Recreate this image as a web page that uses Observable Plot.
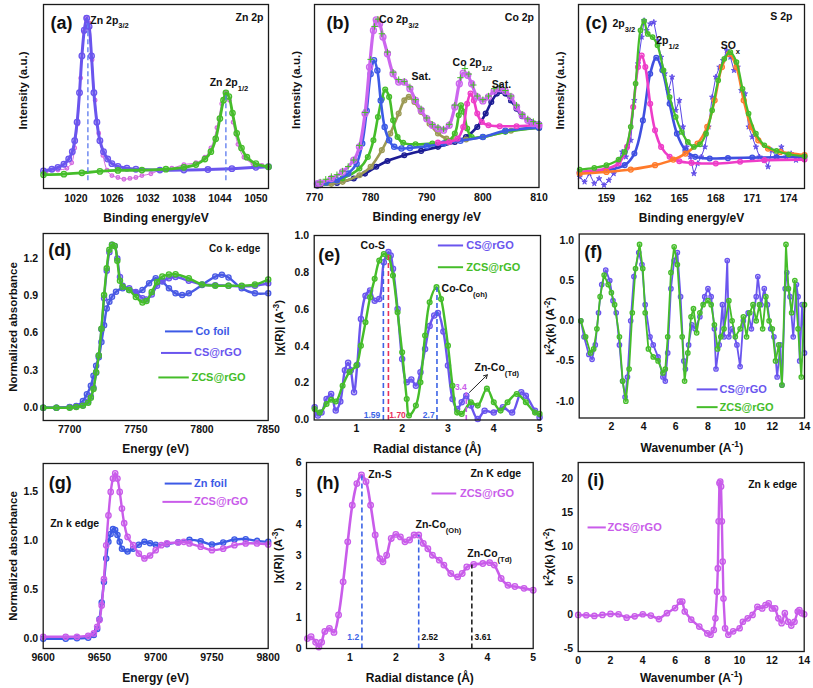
<!DOCTYPE html>
<html><head><meta charset="utf-8">
<script src="https://cdn.jsdelivr.net/npm/d3@7"></script>
<script src="https://cdn.jsdelivr.net/npm/@observablehq/plot@0.6"></script>
<style>
body{margin:0;background:#fff;}
#root{position:relative;width:813px;height:688px;overflow:hidden;background:#fff;}
.cell{position:absolute;}
</style></head>
<body><div id="root"></div>
<script>
// ---------- DATA ----------
// (a) Zn 2p
const aTicks = [1020, 1026, 1032, 1038, 1044, 1050];
const aRaw = [[1015,0.09],[1017,0.1],[1018.5,0.11],[1019.3,0.14],[1019.8,0.22],[1020.3,0.35],[1020.8,0.6],[1021.3,0.85],[1021.7,0.93],[1022.2,0.9],[1022.7,0.7],[1023.2,0.48],[1023.8,0.3],[1024.5,0.18],[1025.2,0.1],[1026,0.07],[1027,0.06],[1028,0.05],[1029,0.055],[1030,0.06],[1031,0.07],[1032.5,0.08],[1034,0.1],[1036,0.11],[1038,0.13],[1040,0.14],[1041.5,0.17],[1042.5,0.22],[1043.5,0.33],[1044.3,0.46],[1045,0.52],[1045.6,0.48],[1046.2,0.36],[1047,0.24],[1048,0.17],[1049.5,0.135],[1051,0.125],[1052,0.12]];
const aFit32 = [[1014.6,0.095],[1016,0.105],[1017,0.115],[1018,0.132],[1018.8,0.16],[1019.4,0.2],[1019.8,0.26],[1020.2,0.36],[1020.6,0.52],[1021,0.72],[1021.4,0.86],[1021.8,0.925],[1022.2,0.88],[1022.6,0.72],[1023,0.52],[1023.5,0.36],[1024,0.26],[1024.6,0.2],[1025.3,0.16],[1026,0.135],[1027,0.12],[1028.5,0.11],[1030,0.105],[1034,0.1],[1038,0.1],[1042,0.103],[1046,0.108],[1050,0.115],[1052.1,0.118]];
const aFit12 = [[1014.6,0.075],[1018,0.078],[1021,0.085],[1024,0.093],[1027,0.098],[1031,0.1],[1035,0.105],[1038,0.115],[1040,0.13],[1041.5,0.16],[1042.5,0.2],[1043.3,0.27],[1044,0.38],[1044.6,0.48],[1045,0.52],[1045.5,0.5],[1046.1,0.41],[1046.8,0.3],[1047.6,0.22],[1048.5,0.17],[1050,0.135],[1052.1,0.118]];
const aPeaks = [{x:1022, top:0.92}, {x:1045, top:0.52}];

// (b) Co 2p
const bTicks = [770, 780, 790, 800, 810];
const bEnv = [[770.5,0.02],[771,0.025],[773,0.049],[775,0.085],[777,0.149],[778,0.222],[779,0.404],[779.8,0.658],[780.5,0.858],[781,0.916],[781.6,0.895],[782.2,0.822],[783,0.731],[784,0.622],[785,0.576],[786,0.576],[787,0.54],[788,0.476],[789,0.422],[790,0.376],[791,0.34],[792,0.322],[793,0.313],[794,0.34],[795,0.44],[795.8,0.567],[796.5,0.625],[797.3,0.613],[798,0.567],[799,0.495],[800,0.473],[801,0.495],[802,0.527],[803,0.54],[804,0.527],[805,0.495],[806,0.44],[807,0.395],[808,0.367],[809,0.349],[810,0.34]];
const bRaw = [[771,0.03],[772,0.045],[773,0.06],[774,0.07],[775,0.09],[776,0.115],[777,0.15],[778,0.23],[779,0.41],[780,0.7],[780.7,0.88],[781.3,0.92],[782,0.84],[783,0.74],[784,0.63],[785,0.59],[786,0.58],[787,0.55],[788,0.48],[789,0.43],[790,0.38],[791,0.345],[792,0.33],[793,0.32],[794,0.345],[795,0.45],[796,0.6],[796.8,0.65],[797.5,0.62],[798.3,0.56],[799,0.5],[800,0.48],[801,0.5],[802,0.54],[803,0.55],[804,0.53],[805,0.5],[806,0.45],[807,0.4],[808,0.375],[809,0.36],[810,0.35]];
const bCo32 = [[770.5,0.02],[772,0.028],[774,0.04],[776,0.076],[777.5,0.13],[778.5,0.24],[779.3,0.42],[780,0.62],[780.6,0.695],[781.2,0.64],[781.8,0.476],[782.5,0.33],[783.3,0.258],[784.2,0.222],[785.5,0.213],[787,0.216],[790,0.225],[793,0.24],[796,0.255],[800,0.276],[804,0.31],[810,0.327]];
const bCo2 = [[770.5,0.015],[772,0.025],[775,0.05],[778,0.104],[779.5,0.167],[780.5,0.258],[781.3,0.385],[782,0.485],[782.6,0.535],[783.3,0.495],[784,0.367],[784.8,0.276],[785.8,0.244],[788,0.236],[791,0.24],[793.5,0.249],[795,0.295],[795.7,0.395],[796.1,0.449],[796.6,0.413],[797.2,0.322],[798,0.276],[800,0.276],[804,0.304],[810,0.327]];
const bSat1 = [[770.5,0.012],[773,0.02],[775,0.031],[778,0.067],[780,0.113],[782,0.204],[783.5,0.295],[785,0.404],[786,0.476],[786.8,0.495],[787.8,0.467],[789,0.413],[790.5,0.349],[792,0.295],[793.5,0.267],[795,0.258],[797,0.262],[800,0.276],[805,0.31],[810,0.327]];
const bCo12 = [[792,0.245],[794,0.249],[795.5,0.267],[796.5,0.331],[797.2,0.458],[797.8,0.513],[798.4,0.476],[799,0.404],[799.8,0.358],[801,0.34],[803,0.335],[806,0.335],[810,0.34]];
const bSat2 = [[770.5,0.01],[771,0.013],[774,0.025],[777,0.049],[779,0.076],[781,0.113],[783,0.145],[786,0.176],[789,0.2],[792,0.222],[795,0.249],[797,0.276],[799,0.331],[800.5,0.404],[801.5,0.467],[802.5,0.513],[803.2,0.527],[804,0.513],[805,0.476],[806,0.431],[807,0.389],[808.5,0.358],[810,0.345]];

// (c) S 2p
const cTicks = [159, 162, 165, 168, 171, 174];
const cRaw = [[156.8,0.063],[157.2,0.036],[157.6,0.081],[158,0.027],[158.4,0.054],[158.8,0.018],[159.2,0.045],[159.6,0.081],[160,0.154],[160.3,0.199],[160.6,0.172],[161,0.262],[161.3,0.479],[161.6,0.678],[161.9,0.823],[162.1,0.913],[162.3,0.859],[162.6,0.895],[162.9,0.904],[163.2,0.805],[163.5,0.714],[163.8,0.624],[164.1,0.533],[164.4,0.606],[164.7,0.425],[165,0.479],[165.3,0.335],[165.6,0.226],[165.9,0.172],[166.2,0.081],[166.5,0.136],[166.8,0.172],[167.1,0.226],[167.4,0.335],[167.7,0.497],[168,0.606],[168.3,0.66],[168.6,0.696],[168.9,0.75],[169.2,0.714],[169.5,0.642],[169.8,0.66],[170.1,0.533],[170.4,0.515],[170.7,0.335],[171,0.28],[171.3,0.226],[171.6,0.172],[172,0.154],[172.3,0.118],[172.6,0.208],[173,0.172],[173.4,0.226],[173.8,0.172],[174.2,0.19],[174.6,0.154],[175,0.172]];
const cEnv = [[156.8,0.103],[158,0.112],[159,0.127],[160,0.157],[160.5,0.199],[161,0.335],[161.4,0.57],[161.8,0.86],[162.1,0.91],[162.4,0.84],[162.8,0.823],[163.2,0.778],[163.7,0.642],[164.2,0.497],[164.7,0.389],[165.2,0.307],[165.7,0.253],[166.2,0.226],[166.7,0.24],[167.2,0.298],[167.7,0.425],[168.2,0.588],[168.7,0.705],[169.2,0.741],[169.7,0.687],[170.2,0.542],[170.7,0.407],[171.3,0.298],[172,0.235],[173,0.204],[174,0.186],[175.3,0.175]];
const cS32 = [[156.8,0.09],[159,0.108],[160,0.136],[160.7,0.226],[161.2,0.443],[161.6,0.66],[161.9,0.723],[162.2,0.66],[162.6,0.461],[163,0.316],[163.5,0.226],[164.2,0.172],[165,0.148],[166,0.139],[168,0.136],[170,0.145],[172,0.154],[175.3,0.157]];
const cS12 = [[156.8,0.085],[159,0.099],[160.5,0.127],[161.3,0.19],[162,0.37],[162.6,0.624],[163.1,0.711],[163.6,0.642],[164.2,0.461],[164.8,0.298],[165.5,0.208],[166.3,0.172],[167.5,0.163],[169,0.165],[171,0.168],[173,0.17],[175.3,0.172]];
const cSOx = [[156.8,0.081],[159,0.09],[161,0.103],[163,0.127],[164.5,0.157],[165.5,0.19],[166.5,0.244],[167.3,0.335],[167.9,0.479],[168.5,0.66],[169.1,0.732],[169.7,0.66],[170.3,0.479],[170.9,0.335],[171.5,0.262],[172.3,0.217],[173.3,0.199],[175.3,0.181]];

// (d) Co K-edge XANES
const dXTicks = [7700, 7750, 7800, 7850];
const dYTicks = [0.0, 0.3, 0.6, 0.9, 1.2];
const dCoFoil = [[7680,0],[7690,0],[7700,0.005],[7705,0.013],[7710,0.054],[7713,0.108],[7716,0.176],[7718,0.257],[7720,0.338],[7722,0.405],[7724,0.527],[7726,0.662],[7728,0.797],[7730,0.851],[7732,0.892],[7735,0.932],[7740,0.959],[7745,0.946],[7750,0.919],[7755,0.946],[7760,1.0],[7765,1.04],[7770,1.014],[7775,0.959],[7780,0.919],[7785,0.905],[7790,0.919],[7800,0.986],[7810,1.054],[7815,1.068],[7820,1.046],[7830,0.959],[7840,0.919],[7850,0.919]];
const dCS = [[7680,0],[7690,0],[7700,0.003],[7705,0.01],[7710,0.02],[7714,0.05],[7716,0.09],[7718,0.16],[7720,0.28],[7722,0.42],[7724,0.63],[7726,0.88],[7728,1.1],[7730,1.25],[7732,1.31],[7734,1.3],[7736,1.2],[7738,1.05],[7740,0.98],[7745,0.96],[7750,0.93],[7755,0.88],[7758,0.87],[7762,0.91],[7766,0.98],[7770,1.02],[7775,1.04],[7780,1.05],[7790,1.02],[7800,0.99],[7810,0.985],[7820,0.98],[7830,0.975],[7840,0.98],[7850,1.0]];
const dZCS = [[7680,0],[7690,0],[7700,0],[7705,0.005],[7710,0.015],[7714,0.04],[7716,0.08],[7718,0.15],[7720,0.285],[7722,0.42],[7724,0.635],[7726,0.905],[7728,1.12],[7730,1.27],[7732,1.31],[7734,1.3],[7736,1.18],[7738,1.02],[7740,0.973],[7745,0.946],[7750,0.89],[7755,0.846],[7758,0.857],[7762,0.93],[7766,1.01],[7770,1.054],[7775,1.07],[7780,1.073],[7790,1.04],[7800,0.99],[7810,0.98],[7820,0.98],[7830,0.98],[7840,0.99],[7850,1.03]];

// (e) Co FT-EXAFS
const eXTicks = [1, 2, 3, 4, 5];
const eYTicks = [0.0, 0.2, 0.4, 0.6, 0.8, 1.0];
const eCS = [[0.09,0.069],[0.16,0.024],[0.24,0.04],[0.35,0.114],[0.45,0.141],[0.55,0.051],[0.65,0.1],[0.75,0.27],[0.82,0.31],[0.88,0.27],[0.95,0.15],[1.02,0.3],[1.1,0.548],[1.2,0.674],[1.3,0.702],[1.4,0.647],[1.5,0.656],[1.6,0.855],[1.7,0.91],[1.75,0.892],[1.8,0.82],[1.9,0.602],[2.0,0.33],[2.1,0.204],[2.2,0.22],[2.3,0.186],[2.4,0.259],[2.5,0.385],[2.6,0.51],[2.7,0.566],[2.78,0.58],[2.9,0.479],[3.0,0.295],[3.1,0.114],[3.2,0.06],[3.3,0.096],[3.4,0.132],[3.5,0.078],[3.65,0.005],[3.8,0.05],[4.0,0.04],[4.2,0.069],[4.4,0.04],[4.6,0.15],[4.7,0.132],[4.9,0.05],[5.0,0.015]];
const eZCS = [[0.09,0.06],[0.2,0.04],[0.35,0.087],[0.45,0.11],[0.55,0.1],[0.7,0.186],[0.85,0.26],[1.0,0.295],[1.1,0.403],[1.2,0.53],[1.3,0.665],[1.4,0.765],[1.5,0.864],[1.6,0.9],[1.7,0.882],[1.8,0.783],[1.9,0.584],[2.0,0.367],[2.1,0.114],[2.15,0.024],[2.3,0.078],[2.4,0.204],[2.5,0.458],[2.6,0.638],[2.75,0.72],[2.85,0.656],[3.0,0.403],[3.1,0.186],[3.2,0.04],[3.3,0.033],[3.5,0.096],[3.65,0.078],[3.85,0.17],[4.0,0.096],[4.15,0.051],[4.3,0.096],[4.5,0.141],[4.7,0.096],[4.9,0.04],[5.0,0.033]];
const eMarks = [{x:1.59, top:0.87, color:"#3c64e6", label:"1.59", lx:1.34},{x:1.70, top:0.9, color:"#e8305a", label:"1.70", lx:1.9},{x:2.76, top:0.72, color:"#3c64e6", label:"2.7", lx:2.58}];

// (f) Co k-space
const fXTicks = [2, 4, 6, 8, 10, 12, 14];
const fYTicks = [-1.0, -0.5, 0.0, 0.5, 1.0];
const fCS = [[0.1,0],[0.3,-0.2],[0.6,-0.42],[0.8,-0.48],[1.0,-0.3],[1.2,0.1],[1.4,0.45],[1.65,0.63],[1.9,0.5],[2.1,0.25],[2.3,0.1],[2.5,-0.3],[2.7,-0.75],[2.85,-0.95],[3.0,-0.7],[3.2,0.0],[3.4,0.55],[3.7,0.85],[3.9,0.7],[4.1,0.2],[4.4,-0.2],[4.6,-0.3],[4.9,-0.45],[5.2,-0.7],[5.35,-0.75],[5.5,-0.4],[5.7,0.4],[5.9,0.75],[6.1,0.85],[6.3,0.3],[6.5,-0.5],[6.6,-0.6],[6.8,-0.3],[7.0,-0.05],[7.2,-0.1],[7.5,0.05],[7.8,0.3],[8.0,0.4],[8.2,0.3],[8.4,-0.1],[8.5,-0.6],[8.7,-0.3],[8.9,0.2],[9.0,-0.2],[9.2,0.75],[9.3,-0.2],[9.5,-0.1],[9.8,-0.3],[10.0,-0.57],[10.2,0.0],[10.5,0.1],[10.7,-0.1],[11.0,0.3],[11.1,0.55],[11.3,0.2],[11.5,0.4],[11.7,0.2],[11.9,-0.1],[12.1,-0.2],[12.3,-0.7],[12.5,-0.3],[12.6,-0.8],[12.8,0.4],[12.9,0.6],[13.1,0.3],[13.3,-0.2],[13.5,0.45],[13.6,0.3],[13.7,-0.5],[13.85,0.2],[14.0,-0.4]];
const fZCS = [[0.1,0.0],[0.4,-0.2],[0.7,-0.4],[0.9,-0.35],[1.1,-0.1],[1.3,0.3],[1.55,0.57],[1.8,0.45],[2.0,0.35],[2.2,0.2],[2.5,-0.2],[2.7,-0.75],[2.9,-1.0],[3.1,-0.6],[3.3,0.1],[3.5,0.65],[3.75,0.95],[3.95,0.65],[4.1,0.1],[4.3,-0.35],[4.6,-0.45],[4.9,-0.5],[5.2,-0.65],[5.35,-0.6],[5.5,-0.2],[5.7,0.6],[5.9,0.92],[6.1,0.7],[6.4,-0.2],[6.55,-0.75],[6.75,-0.4],[6.95,0.05],[7.1,0.15],[7.3,-0.15],[7.5,0.1],[7.7,0.2],[8.0,0.25],[8.2,0.2],[8.4,-0.05],[8.6,-0.35],[8.8,-0.2],[9.0,-0.1],[9.3,0.25],[9.5,0.0],[9.7,-0.2],[10.0,-0.1],[10.2,0.05],[10.4,-0.2],[10.6,0.1],[10.8,0.2],[11.0,0.0],[11.2,0.2],[11.4,-0.1],[11.6,0.3],[11.8,0.0],[12.0,-0.1],[12.2,-0.5],[12.4,-0.3],[12.6,-0.8],[12.85,0.95],[13.0,0.4],[13.2,0.1],[13.4,0.5],[13.6,-0.1],[13.8,-0.7],[14.0,0.2]];

// (g) Zn K-edge XANES
const gXTicks = [9600, 9650, 9700, 9750, 9800];
const gYTicks = [0.0, 0.5, 1.0, 1.5];
const gZnFoil = [[9600,0],[9620,0],[9630,0.005],[9640,0.01],[9645,0.037],[9648,0.1],[9650,0.2],[9652,0.37],[9654,0.58],[9656,0.82],[9658,0.99],[9660,1.07],[9662,1.12],[9664,1.11],[9666,1.06],[9668,0.99],[9670,0.92],[9675,0.89],[9680,0.92],[9685,0.96],[9690,0.99],[9695,0.976],[9700,0.96],[9710,0.966],[9720,0.986],[9730,1.01],[9740,0.996],[9750,0.962],[9760,0.983],[9770,1.013],[9780,1.017],[9790,1.0],[9800,0.99]];
const gZCS = [[9600,0.02],[9620,0.02],[9630,0.02],[9640,0.03],[9645,0.054],[9648,0.122],[9650,0.19],[9652,0.34],[9654,0.61],[9656,0.955],[9658,1.26],[9660,1.5],[9662,1.636],[9664,1.69],[9666,1.636],[9668,1.5],[9670,1.33],[9672,1.18],[9675,1.04],[9680,0.956],[9685,0.87],[9690,0.82],[9695,0.85],[9700,0.905],[9705,0.956],[9710,0.973],[9720,0.983],[9725,0.99],[9730,0.973],[9740,0.94],[9750,0.905],[9760,0.92],[9770,0.956],[9780,0.973],[9790,0.973],[9800,0.963]];

// (h) Zn FT-EXAFS
const hXTicks = [1, 2, 3, 4, 5];
const hYTicks = [0, 1, 2, 3, 4, 5, 6];
const hZCS = [[0.07,0.32],[0.15,0.38],[0.25,0.2],[0.32,0.05],[0.38,0.2],[0.45,0.55],[0.55,0.65],[0.65,0.52],[0.75,1.08],[0.85,2.15],[0.95,3.44],[1.05,4.62],[1.15,5.32],[1.25,5.6],[1.35,5.38],[1.45,4.62],[1.55,3.66],[1.65,2.9],[1.72,2.8],[1.8,3.01],[1.9,3.55],[2.0,3.68],[2.1,3.6],[2.2,3.44],[2.3,3.5],[2.4,3.66],[2.5,3.66],[2.6,3.39],[2.7,3.22],[2.8,3.01],[2.95,2.85],[3.05,2.69],[3.2,2.42],[3.35,2.31],[3.45,2.42],[3.55,2.63],[3.7,2.71],[3.9,2.74],[4.05,2.77],[4.15,2.69],[4.3,2.26],[4.45,2.04],[4.6,2.0],[4.8,1.94],[5.0,1.88]];
const hMarks = [{x:1.26, top:5.6, color:"#3c64e6", label:"1.2"},{x:2.5, top:3.66, color:"#3c64e6", label:"2.52"},{x:3.66, top:2.71, color:"#222", label:"3.61"}];

// (i) Zn k-space
const iXTicks = [0, 2, 4, 6, 8, 10, 12, 14];
const iYTicks = [-5, 0, 5, 10, 15, 20];
const iZCS = [[0,0],[0.5,-0.05],[1,-0.15],[1.5,0.0],[2,0.15],[2.5,0.1],[3,-0.4],[3.5,-0.2],[4,0.1],[4.5,-0.1],[5,-0.6],[5.5,0.25],[6,1.0],[6.3,1.95],[6.45,1.95],[6.6,0.5],[7,-0.7],[7.5,-1.7],[8,-2.7],[8.2,-2.9],[8.4,-2.2],[8.5,-0.5],[8.6,3.4],[8.65,6.8],[8.7,13.7],[8.75,19.3],[8.8,19.5],[8.85,18.8],[8.9,13.7],[8.95,7.8],[9.0,2.4],[9.1,-1.95],[9.3,-2.9],[9.6,-2.4],[10,-1.95],[10.2,-1.0],[10.5,-0.5],[10.8,0.0],[11.1,1.2],[11.4,0.95],[11.6,1.45],[11.8,1.7],[12.0,0.95],[12.2,0.95],[12.4,-0.5],[12.6,-1.2],[12.8,0.25],[13.0,-1.0],[13.2,-1.55],[13.4,-1.0],[13.6,0.5],[13.7,0.7],[13.85,0.25],[14.0,0.1]];

// ---------- STYLE ----------
const FONT = "'Liberation Sans', Arial, Helvetica, sans-serif";
const C = {purple:"#6a55ee", blue:"#3c5ae6", green:"#45bd2a", magenta:"#c95cea", pink:"#d46ae0",
  hot:"#ee3cc8", orange:"#ff7a2a", navy:"#1c1c94", olive:"#9c9a55", violet:"#5a46e6", dash:"#3c64e6"};

const X = d => d[0], Y = d => d[1];
function series(data, color, o = {}) {
  const out = [];
  if (o.line !== false) out.push(Plot.line(data, {x: X, y: Y, stroke: color, strokeWidth: o.sw ?? 2.4, curve: o.curve ?? "catmull-rom"}));
  out.push(Plot.dot(data, {x: X, y: Y, r: o.r ?? 2.6, symbol: o.symbol ?? "circle", stroke: color,
    fill: o.fill ?? color, fillOpacity: o.fillOpacity ?? 0.3, strokeWidth: o.dsw ?? 1.3}));
  return out;
}
function vdash(list, y0, o = {}) {
  return Plot.link(list, {x1: "x", x2: "x", y1: () => y0, y2: "top", stroke: d => d.color ?? o.color,
    strokeWidth: o.sw ?? 1.6, strokeDasharray: "5,3"});
}
function legend(items, fs = 11) {
  return [
    Plot.link(items, {x1: "a", x2: "b", y1: "y", y2: "y", stroke: "color", strokeWidth: 2}),
    Plot.text(items, {x: "t", y: "y", text: "label", fill: "color", textAnchor: "start", fontSize: fs, fontWeight: "bold"})
  ];
}
function ann(items, o = {}) {
  return Plot.text(items, {x: "x", y: "y", text: "t", fill: d => d.color ?? "#111", textAnchor: o.anchor ?? "start",
    fontSize: o.fs ?? 10.5, fontWeight: "bold", lineAnchor: "middle"});
}
function corner(txt, anchor, dx, dy, fs, o = {}) {
  return Plot.text([txt], {text: d => d, frameAnchor: anchor, dx, dy, fontSize: fs, fontWeight: "bold",
    textAnchor: o.textAnchor ?? (anchor.endsWith("left") ? "start" : "end"), lineAnchor: "middle", fill: "#111"});
}

function richify(svg) {
  const NS = "http://www.w3.org/2000/svg";
  svg.querySelectorAll("text").forEach(t => {
    const s = t.textContent;
    if (!/[_^]\{/.test(s) || t.querySelector("tspan")) return;
    t.textContent = "";
    const re = /([_^])\{([^}]*)\}/g; let last = 0, m;
    const add = (str, kind) => {
      const ts = document.createElementNS(NS, "tspan");
      ts.textContent = str;
      if (kind) { ts.setAttribute("baseline-shift", kind === "_" ? "sub" : "super"); ts.setAttribute("font-size", "72%"); }
      t.appendChild(ts);
    };
    while ((m = re.exec(s))) { if (m.index > last) add(s.slice(last, m.index)); add(m[2], m[1]); last = re.lastIndex; }
    if (last < s.length) add(s.slice(last));
  });
}

const root = document.getElementById("root");
function panel(cfg) {
  const [cx, cy, cw, ch] = cfg.cell;
  const [L, T, R, B] = cfg.frame;
  const marks = [
    ...cfg.marks,
    Plot.frame({stroke: "#1a1a1a", strokeWidth: 1.3}),
    Plot.text([cfg.xLabel], {text: d => d, frameAnchor: "bottom", lineAnchor: "middle", dy: cfg.xLabelOffset ?? 30, fontSize: 12, fontWeight: "bold", fill: "#111"}),
    Plot.text([cfg.yLabel], {text: d => d, frameAnchor: "left", textAnchor: "middle", lineAnchor: "middle", rotate: -90, dx: -cfg.yLabelOffset, dy: cfg.yLabelShift ?? 0, fontSize: 11.5, fontWeight: "bold", fill: "#111"})
  ];
  const svg = Plot.plot({
    width: cw, height: ch,
    marginLeft: L - cx, marginTop: T - cy, marginRight: cx + cw - R, marginBottom: cy + ch - B,
    x: {domain: cfg.xDomain, ticks: cfg.xTicks, tickFormat: d => String(d), tickSize: 0, tickPadding: cfg.xPad ?? 6, label: null},
    y: cfg.yTicks ? {domain: cfg.yDomain, ticks: cfg.yTicks, tickFormat: cfg.yFormat, tickSize: 0, tickPadding: 5, label: null}
                  : {domain: cfg.yDomain, axis: null},
    style: {fontFamily: FONT, fontSize: "10.5px", fontWeight: "bold", color: "#111", background: "transparent", overflow: "visible"},
    marks
  });
  richify(svg);
  const div = document.createElement("div");
  div.className = "cell";
  div.style.left = cx + "px"; div.style.top = cy + "px";
  div.appendChild(svg);
  root.appendChild(div);
}
const f1 = d => d.toFixed(1);

// (a)
panel({cell: [0, 0, 271, 225], frame: [43, 4, 268, 188], xDomain: [1014.6, 1052.1], yDomain: [0, 1],
  xTicks: aTicks, xLabel: "Binding energy/eV", yLabel: "Intensity (a.u.)", yLabelOffset: 20, yLabelShift: -6,
  marks: [
    ...series(aRaw, C.pink, {sw: 1, r: 1.8}),
    ...series(aFit32, C.purple, {sw: 3, r: 2.8}),
    ...series(aFit12, C.green, {sw: 2.8, r: 2.7}),
    vdash(aPeaks, 0.045, {color: "#5a78ee", sw: 1.3}),
    ann([{x: 1022.4, y: 0.915, t: "Zn 2p_{3/2}"}, {x: 1042.3, y: 0.575, t: "Zn 2p_{1/2}"}]),
    corner("(a)", "top-left", 7, 19, 18),
    corner("Zn 2p", "top-right", -5, 13, 10.5)
  ]});

// (b)
panel({cell: [271, 0, 271, 225], frame: [314, 4, 538.5, 187], xDomain: [770, 810], yDomain: [0, 1],
  xTicks: bTicks, xLabel: "Binding energy /eV", yLabel: "Intensity (a.u.)", yLabelOffset: 18, yLabelShift: -6,
  marks: [
    ...series(bSat2, C.navy, {sw: 2.6, r: 2.4}),
    ...series(bSat1, C.olive, {sw: 2.6, r: 2.4}),
    ...series(bCo2, C.green, {sw: 2.6, r: 2.4}),
    ...series(bCo32, C.blue, {sw: 2.6, r: 2.6}),
    ...series(bCo12, C.hot, {sw: 2.6, r: 2.4}),
    ...series(bEnv, "#cc66ee", {sw: 3.2, r: 3}),
    ...series(bRaw, C.green, {line: false, symbol: "plus", r: 2.2, dsw: 1}),
    ann([{x: 781.5, y: 0.915, t: "Co 2p_{3/2}"}, {x: 787.3, y: 0.605, t: "Sat.", anchor: "middle"},
         {x: 794.6, y: 0.68, t: "Co 2p_{1/2}"}, {x: 801.6, y: 0.56, t: "Sat."}]),
    corner("(b)", "top-left", 12, 19, 18),
    corner("Co 2p", "top-right", -5, 13, 10.5)
  ]});

// (c)
panel({cell: [542, 0, 271, 225], frame: [578, 4, 804, 188], xDomain: [156.7, 175.3], yDomain: [0, 1],
  xTicks: cTicks, xLabel: "Binding energy/eV", yLabel: "Intensity (a.u.)", yLabelOffset: 18, yLabelShift: -6,
  marks: [
    ...series(cRaw, C.violet, {sw: 1, r: 1.7, symbol: "star", curve: "linear", fillOpacity: 0.8, dsw: 0.8}),
    ...series(cS12, "#3f4fe0", {sw: 2.6, r: 2.4}),
    ...series(cS32, C.hot, {sw: 2.6, r: 2.4}),
    ...series(cSOx, C.orange, {sw: 2.6, r: 2.5}),
    ...series(cEnv, C.green, {sw: 2.2, r: 2.2}),
    ann([{x: 159.5, y: 0.895, t: "2p_{3/2}"}, {x: 163.1, y: 0.805, t: "2p_{1/2}"}, {x: 168.4, y: 0.775, t: "SO_{x}"}]),
    corner("(c)", "top-left", 7, 19, 18),
    corner("S 2p", "top-right", -12, 12, 10.5)
  ]});

// (d)
panel({cell: [0, 225, 271, 230], frame: [42.7, 233, 267.7, 420], xDomain: [7680, 7850], yDomain: [-0.103, 1.4],
  xTicks: dXTicks, yTicks: dYTicks, yFormat: f1, xLabel: "Energy (eV)", yLabel: "Normalized absorbance", yLabelOffset: 30,
  xPad: 5, xLabelOffset: 29,
  marks: [
    ...series(dCoFoil, "#4a5ae4"),
    ...series(dCS, C.purple),
    ...series(dZCS, C.green),
    ...legend([{a: 7772, b: 7793, t: 7795, y: 0.613, label: "Co foil", color: C.blue},
               {a: 7769, b: 7792, t: 7794, y: 0.44, label: "CS@rGO", color: C.purple},
               {a: 7767, b: 7790, t: 7792, y: 0.243, label: "ZCS@rGO", color: C.green}]),
    corner("(d)", "top-left", 5, 17, 18),
    corner("Co k- edge", "top-right", -8, 15, 10)
  ]});

// (e)
panel({cell: [271, 225, 271, 230], frame: [313.7, 235, 540, 419.5], xDomain: [0.08, 5.02], yDomain: [0, 1],
  xTicks: eXTicks, yTicks: eYTicks, yFormat: f1, xLabel: "Radial distance (Å)", yLabel: "|χ(R)| (A^{-3})", yLabelOffset: 35,
  xPad: 5, xLabelOffset: 29,
  marks: [
    ...series(eCS, C.purple),
    ...series(eZCS, C.green, {r: 2.4}),
    vdash(eMarks, 0),
    vdash([{x: 3.4, top: 0.15, color: "#c95cea"}], 0),
    Plot.text(eMarks, {x: "lx", y: () => 0.028, text: "label", fill: "color", fontSize: 8.5, fontWeight: "bold"}),
    ann([{x: 3.28, y: 0.18, t: "3.4", color: "#c95cea"}], {fs: 8.5, anchor: "middle"}),
    ann([{x: 1.36, y: 0.946, t: "Co-S", anchor: "middle"}], {anchor: "middle"}),
    ann([{x: 2.86, y: 0.714, t: "Co-Co_{(oh)}"}, {x: 3.58, y: 0.285, t: "Zn-Co_{(Td)}"}]),
    Plot.arrow([{a: 3.47, b: 0.15, c: 3.86, d: 0.245}], {x1: "a", y1: "b", x2: "c", y2: "d", stroke: "#222", strokeWidth: 1, headLength: 6}),
    ...legend([{a: 2.78, b: 3.33, t: 3.4, y: 0.946, label: "CS@rGO", color: C.purple},
               {a: 2.78, b: 3.33, t: 3.4, y: 0.828, label: "ZCS@rGO", color: C.green}]),
    corner("(e)", "top-left", 4, 20, 18)
  ]});

// (f)
panel({cell: [542, 225, 271, 230], frame: [578.7, 233.5, 804, 417.5], xDomain: [0, 14], yDomain: [-1.21, 1.08],
  xTicks: fXTicks, yTicks: fYTicks, yFormat: f1, xLabel: "Wavenumber (A^{-1})", yLabel: "k^{2}χ(k) (A^{-2})", yLabelOffset: 29,
  xPad: 5, xLabelOffset: 30,
  marks: [
    ...series(fCS, C.purple, {sw: 1.8, r: 2.2, curve: "linear"}),
    ...series(fZCS, C.green, {sw: 1.8, r: 2.2, curve: "linear"}),
    ...legend([{a: 7.3, b: 8.6, t: 8.72, y: -0.854, label: "CS@rGO", color: C.purple},
               {a: 7.3, b: 8.6, t: 8.72, y: -1.075, label: "ZCS@rGO", color: C.green}]),
    corner("(f)", "top-left", 5, 18, 18)
  ]});

// (g)
panel({cell: [0, 455, 271, 233], frame: [42.7, 463, 267.7, 648], xDomain: [9600, 9800], yDomain: [-0.1, 1.79],
  xTicks: gXTicks, yTicks: gYTicks, yFormat: f1, xLabel: "Energy (eV)", yLabel: "Normalized absorbance", yLabelOffset: 30,
  xPad: 5, xLabelOffset: 30,
  marks: [
    ...series(gZnFoil, C.blue),
    ...series(gZCS, C.magenta, {r: 2.7}),
    ...legend([{a: 9708, b: 9732, t: 9734, y: 1.585, label: "Zn foil", color: C.blue},
               {a: 9706, b: 9732, t: 9734, y: 1.398, label: "ZCS@rGO", color: C.magenta}]),
    corner("(g)", "top-left", 5.5, 20, 18),
    corner("Zn k edge", "top-left", 7, 60, 10.5)
  ]});

// (h)
panel({cell: [271, 455, 271, 233], frame: [306, 462, 532.7, 648], xDomain: [0.05, 5], yDomain: [0, 6],
  xTicks: hXTicks, yTicks: hYTicks, yFormat: d => String(d), xLabel: "Radial distance (Å)", yLabel: "|χ(R)| (A^{-3})", yLabelOffset: 28,
  xPad: 5, xLabelOffset: 30,
  marks: [
    ...series(hZCS, C.magenta, {sw: 2.6, r: 2.8}),
    vdash(hMarks, 0),
    ann([{x: 1.07, y: 0.36, t: "1.2", color: "#3c64e6"}], {fs: 8.5, anchor: "middle"}),
    ann([{x: 2.56, y: 0.36, t: "2.52"}, {x: 3.72, y: 0.36, t: "3.61"}], {fs: 8.5}),
    ann([{x: 1.4, y: 5.61, t: "Zn-S"}, {x: 2.43, y: 3.98, t: "Zn-Co_{(Oh)}"}, {x: 3.56, y: 3.06, t: "Zn-Co_{(Td)}"}]),
    ...legend([{a: 2.78, b: 3.32, t: 3.4, y: 5.0, label: "ZCS@rGO", color: C.magenta}]),
    corner("(h)", "top-left", 10, 21, 18),
    corner("Zn K edge", "top-right", -12, 11, 10.5)
  ]});

// (i)
panel({cell: [542, 455, 271, 233], frame: [577.7, 462, 803.7, 651], xDomain: [0, 14], yDomain: [-5.35, 22.3],
  xTicks: iXTicks, yTicks: iYTicks, yFormat: d => String(d), xLabel: "Wavenumber (A^{-1})", yLabel: "k^{2}χ(k) (A^{-2})", yLabelOffset: 29,
  xPad: 5, xLabelOffset: 27,
  marks: [
    ...series(iZCS, C.magenta, {sw: 2.4, r: 2.7, curve: "linear"}),
    ...legend([{a: 0.58, b: 1.71, t: 1.82, y: 12.8, label: "ZCS@rGO", color: C.magenta}]),
    corner("(i)", "top-left", 9, 18, 18),
    corner("Zn k edge", "top-right", -7, 22, 10.5)
  ]});
</script></body></html>
